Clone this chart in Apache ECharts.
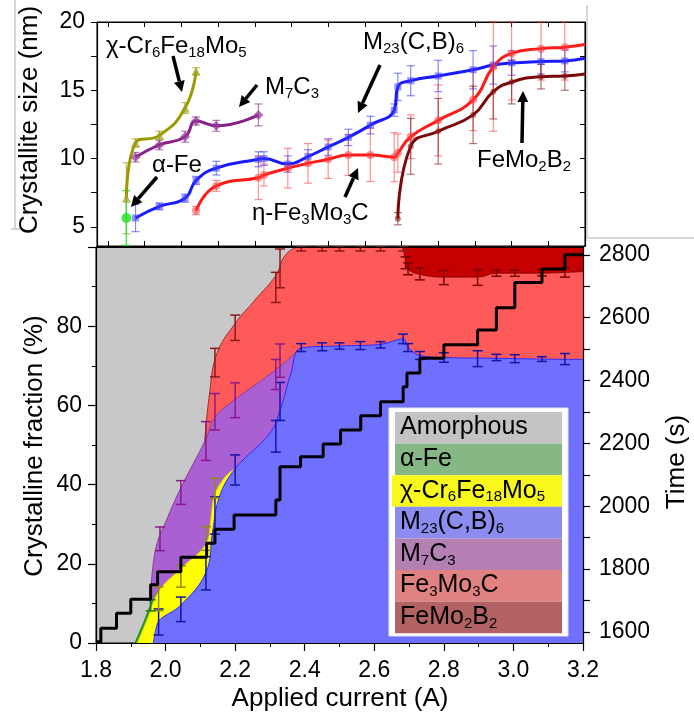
<!DOCTYPE html>
<html><head><meta charset="utf-8">
<script src="https://cdn.jsdelivr.net/npm/echarts@6/dist/echarts.min.js"></script>
<style>html,body{margin:0;padding:0;background:#fff}#c{width:694px;height:722px}</style>
</head><body><div id="c"></div>
<script>
// ---------- Top panel: crystallite size (nm) [current A, size, error] ----------
const sizeAlphaFe = [[1.95, 5.65, 2.0]];
const sizeChi = [[1.95,7.1,2.6],[1.975,11.15,0.3],[2.04,11.7,0.3],[2.11,13.7,0.4],[2.14,16.4,0.25]];
const sizeM7C3 = [[1.975,10.1,0.35],[2.04,11.0,0.35],[2.11,11.6,0.4],[2.14,12.75,0.3],[2.195,12.4,0.4],[2.31,13.2,0.8]];
const sizeM23 = [[1.975,5.65,1.0],[2.04,6.5,0.25],[2.11,7.1,0.3],[2.14,8.4,0.3],[2.195,9.3,0.5],[2.31,9.95,0.55],[2.325,10.0,0.5],[2.39,9.6,0.6],[2.445,10.15,0.5],[2.5,10.85,0.6],[2.555,11.55,0.6],[2.615,12.45,0.65],[2.68,13.55,0.45],[2.69,15.25,1.0],[2.725,15.7,1.1],[2.8,16.05,1.15],[2.895,16.5,1.4],[2.95,16.85,1.4],[3.0,17.0,0.9],[3.08,17.1,0.9],[3.145,17.15,0.8]];
const sizeFe3Mo3C = [[2.14,6.2,0.3],[2.195,8.0,0.4],[2.31,8.6,1.6],[2.325,8.8,0.8],[2.39,9.3,1.45],[2.445,9.65,1.45],[2.5,9.95,1.4],[2.555,10.27,1.5],[2.615,10.27,1.95],[2.68,10.1,1.8],[2.69,10.4,1.4],[2.725,11.6,1.6],[2.8,12.8,2.6],[2.895,14.3,2.25],[2.95,16.7,4.7],[3.0,17.7,3.4],[3.08,18.05,2.3],[3.145,18.15,2.4]];
const sizeFeMo2B2 = [[2.69,5.6,0.45],[2.725,10.9,2.05],[2.8,12.0,2.4],[2.895,13.2,2.1],[2.95,14.9,2.0],[3.0,15.6,1.6],[3.08,16.0,0.9],[3.145,16.05,1.05]];
const sizeEndM23 = 17.35, sizeEndFe3Mo3C = 18.35, sizeEndFeMo2B2 = 16.2;

// ---------- Bottom panel: cumulative crystalline fraction boundaries (%) ----------
const fracM23Top = [[1.965,0],[1.975,4.5],[1.985,6],[2.044,9.6],[2.116,17.8],[2.135,28],[2.155,37],[2.2,44],[2.3,53],[2.33,59],[2.36,68],[2.39,74.5],[2.5,75],[2.618,75.4],[2.683,76.8],[2.697,74.7],[2.731,72.6],[2.8,72.1],[2.951,71.9],[3.082,71.7],[3.2,71.6]];
const fracChiTop = [[1.919,0],[1.95,6.5],[1.98,13],[2.044,18.8],[2.116,25],[2.13,31],[2.14,37],[2.17,41.8],[2.2,44]];
const fracAlphaFeTop = [[1.912,0],[1.925,2.7],[1.94,5.8],[1.955,9.2],[1.97,11.8],[1.978,13]];
const fracM7C3Top = [[1.955,10],[1.962,18],[1.975,25],[2.0,30.5],[2.044,39.2],[2.116,51.5],[2.142,57],[2.2,61.5],[2.317,69],[2.39,74.6]];
const fracFe3Mo3CTop = [[2.112,50.5],[2.125,62],[2.147,73],[2.2,80.7],[2.257,86.6],[2.317,92.8],[2.345,98],[2.39,100],[3.2,100]];
const fracFeMo2B2Bottom = [[2.683,100],[2.69,96.5],[2.697,94.4],[2.731,93.1],[2.8,92.4],[2.897,92.4],[2.951,93.4],[3.004,93.4],[3.082,93.4],[3.148,93.6],[3.2,93.8]];

// error bars on the boundaries [current, value, error]
const errM23 = [[1.98,5.3,3.3],[2.044,8.5,3.1],[2.116,17.6,4.2],[2.142,32.2,4.7],[2.2,43.7,3.8],[2.317,52.2,4],[2.329,61,4.8],[2.39,74.6,1],[2.45,74.8,1],[2.5,75,0.8],[2.56,75.1,1],[2.618,75.3,0.8],[2.683,76.8,1.2],[2.697,74.6,1],[2.731,72.6,1],[2.8,72.1,1.2],[2.897,71.8,2],[2.951,72.1,0.8],[3.004,71.8,1],[3.082,71.7,0.6],[3.148,71.7,1.4]];
const errChi = [[1.98,11.2,3],[2.044,16.8,2.7],[2.116,26.4,3],[2.142,39.1,2.5]];
const errAlphaFe = [[1.957,9.5,1.4]];
const errM7C3 = [[1.984,26.3,3],[2.044,38,3],[2.116,51,4.9],[2.142,58.4,4.6],[2.2,61.3,4.4],[2.317,67.8,3.8],[2.329,71.3,4.2]];
const errFe3Mo3C = [[2.142,70.8,3.6],[2.2,79.6,3.2],[2.317,89.8,3.8],[2.329,94.6,4.9],[2.39,99.8,0.8],[2.45,99.8,0.8],[2.5,99.8,0.8],[2.56,99.8,0.8],[2.618,99.8,0.8],[2.683,99.8,0.8]];
const errFeMo2B2 = [[2.69,96,1.5],[2.697,94.5,1.5],[2.731,93.2,1.5],[2.8,92.3,1.8],[2.897,92.3,2],[2.951,93.4,0.8],[3.004,93.4,0.8],[3.082,93.5,0.8],[3.148,93.6,1.2]];

// ---------- Time staircase (right axis) ----------
const stepCurrent = [1.800,1.814,1.859,1.900,1.957,1.977,2.044,2.118,2.142,2.197,2.317,2.329,2.388,2.453,2.503,2.561,2.618,2.683,2.694,2.731,2.800,2.897,2.951,3.004,3.082,3.148,3.200];
const stepTime = [1569,1612,1660,1704,1750,1792,1838,1882,1927,1972,2020,2126,2158,2198,2243,2288,2333,2380,2424,2471,2514,2561,2632,2712,2755,2800,2800];

// ---------- tick labels ----------
const sizeTickLabels = [5,10,15,20];
const sizeTicks = [5,7.5,10,12.5,15,17.5,20];
const topCurrentTicks = [1.9,2.0,2.1,2.2,2.3,2.4,2.5,2.6,2.7,2.8,2.9,3.0,3.1];
const timeTickLabels = [1600,1800,2000,2200,2400,2600,2800];
const timeTicks = [1600,1700,1800,1900,2000,2100,2200,2300,2400,2500,2600,2700,2800];

const FONT = '"Liberation Sans", Arial, Helvetica, sans-serif';
const chart = echarts.init(document.getElementById('c'), null, {renderer:'canvas'});

function errSeries(name, data, color, xi, yi, capW, lw, z) {
  return {
    type:'custom', name, xAxisIndex:xi, yAxisIndex:yi, silent:true, z:z,
    data: data.map(d => [d[0], d[1]-d[2], d[1]+d[2]]),
    encode:{x:0, y:[1,2]},
    renderItem(params, api){
      const cs = params.coordSys;
      const x = api.value(0);
      const a = api.coord([x, api.value(1)]);
      const b = api.coord([x, api.value(2)]);
      const top = cs.y, bot = cs.y + cs.height;
      const cl = y => Math.max(top, Math.min(bot, y));
      const px = a[0];
      const st = {stroke: color, lineWidth: lw, fill: null};
      const ch = [{type:'line', shape:{x1:px,y1:cl(a[1]),x2:px,y2:cl(b[1])}, style:st}];
      ch.push({type:'line', shape:{x1:px-capW,y1:cl(a[1]),x2:px+capW,y2:cl(a[1])}, style:st});
      ch.push({type:'line', shape:{x1:px-capW,y1:cl(b[1]),x2:px+capW,y2:cl(b[1])}, style:st});
      return {type:'group', children: ch};
    }
  };
}
function sizeSeries(name, pts, endVal, color, symbol, symColor, symSize) {
  const data = pts.map(p => [p[0], p[1]]);
  if (endVal != null) data.push({value:[3.2, endVal], symbol:'none'});
  return {type:'line', name, xAxisIndex:0, yAxisIndex:0, data, smooth:0.5,
    symbol, symbolSize:symSize||8, showAllSymbol:true, clip:true,
    lineStyle:{color, width:3}, itemStyle:{color:symColor}, z:4, silent:true};
}
function areaSeries(name, pts, fill, stroke, origin) {
  return {type:'line', name, xAxisIndex:2, yAxisIndex:2, data:pts, smooth:0.4,
    symbol:'none', lineStyle:{color:stroke, width:1}, areaStyle:{color:fill, opacity:1, origin:origin||'start'},
    z:2, silent:true};
}

const axLine = {show:true, lineStyle:{color:'#000', width:1.2}};
const lblStyle = {color:'#000', fontFamily:FONT, fontSize:23};

const option = {
  animation:false,
  backgroundColor:'#fff',
  grid:[
    {left:97, right:109, top:22, height:224, show:true, backgroundColor:'#fff', borderColor:'#000', borderWidth:1},
    {left:96, right:111, top:247, height:396, show:true, backgroundColor:'#c8c8c8', borderColor:'#000', borderWidth:1}
  ],
  xAxis:[
    {gridIndex:0, type:'value', min:1.87, max:3.2, position:'bottom', axisLine:axLine,
     axisTick:{show:true, inside:true, length:5, customValues:topCurrentTicks, lineStyle:{color:'#000'}},
     axisLabel:{show:false}, splitLine:{show:false}},
    {gridIndex:0, type:'value', min:1.87, max:3.2, position:'top', axisLine:axLine,
     axisTick:{show:true, inside:true, length:5, customValues:topCurrentTicks, lineStyle:{color:'#000'}},
     axisLabel:{show:false}, splitLine:{show:false}},
    {gridIndex:1, type:'value', min:1.8, max:3.2, interval:0.2, position:'bottom', z:10, axisLine:axLine,
     axisTick:{show:true, length:8, lineStyle:{color:'#000', width:1.2}},
     minorTick:{show:true, splitNumber:2, length:4, lineStyle:{color:'#000'}},
     axisLabel:Object.assign({margin:16, formatter:v => v.toFixed(1)}, lblStyle), splitLine:{show:false}},
    {gridIndex:1, type:'value', min:1.8, max:3.2, position:'top', z:10, axisLine:axLine,
     axisTick:{show:false}, axisLabel:{show:false}, splitLine:{show:false}}
  ],
  yAxis:[
    {gridIndex:0, type:'value', min:3.6, max:20, position:'left', axisLine:axLine,
     axisTick:{show:true, length:6, customValues:sizeTicks, lineStyle:{color:'#000'}},
     axisLabel:Object.assign({margin:12, customValues:sizeTickLabels, formatter:v => String(v)}, lblStyle), splitLine:{show:false}},
    {gridIndex:0, type:'value', min:3.6, max:20, position:'right', axisLine:axLine,
     axisTick:{show:true, inside:true, length:5, customValues:sizeTicks, lineStyle:{color:'#000'}},
     axisLabel:{show:false}, splitLine:{show:false}},
    {gridIndex:1, type:'value', min:0, max:100, interval:20, position:'left', z:10, axisLine:axLine,
     axisTick:{show:true, length:8, lineStyle:{color:'#000', width:1.2}},
     minorTick:{show:true, splitNumber:2, length:4, lineStyle:{color:'#000'}},
     axisLabel:Object.assign({margin:14, showMaxLabel:false, formatter:v => String(v)}, lblStyle), splitLine:{show:false}},
    {gridIndex:1, type:'value', min:1565, max:2825, position:'right', z:10, axisLine:axLine,
     axisTick:{show:true, length:7, customValues:timeTicks, lineStyle:{color:'#000', width:1.2}},
     axisLabel:Object.assign({margin:16, customValues:timeTickLabels, formatter:v => String(Math.round(v))}, lblStyle), splitLine:{show:false}}
  ],
  series:[
    areaSeries('Fe3Mo3C', fracFe3Mo3CTop, '#ff5a5a', '#a02a2a'),
    areaSeries('FeMo2B2', fracFeMo2B2Bottom, '#c40000', '#8a0000', 'end'),
    areaSeries('M7C3', fracM7C3Top, '#aa5fd2', '#8a3aa0'),
    areaSeries('α-Fe', fracAlphaFeTop, '#2e9e2e', '#1f8a1f'),
    areaSeries('χ-Cr6Fe18Mo5', fracChiTop, '#ffff00', '#e0e000'),
    areaSeries('M23(C,B)6', fracM23Top, '#7070ff', '#2a2aff'),
    errSeries('eM23', errM23, '#1414a8', 2, 2, 5, 1.5, 3),
    errSeries('eChi', errChi, '#8c8c10', 2, 2, 5, 1.5, 3),
    errSeries('eAlpha', errAlphaFe, '#1f7a1f', 2, 2, 5, 1.5, 3),
    errSeries('eM7C3', errM7C3, '#8a1a8a', 2, 2, 5, 1.5, 3),
    errSeries('eFe3Mo3C', errFe3Mo3C, '#8a1a1a', 2, 2, 5, 1.5, 3),
    errSeries('eFeMo2B2', errFeMo2B2, '#7a0000', 2, 2, 5, 1.5, 3),
    {type:'line', name:'Time', xAxisIndex:2, yAxisIndex:3, data:stepCurrent.map((c,i)=>[c, stepTime[i]]),
     step:'end', symbol:'none', lineStyle:{color:'#000', width:3}, z:6, silent:true},
    errSeries('sM23', sizeM23, 'rgba(40,40,255,0.55)', 0, 0, 4, 1.2, 3),
    errSeries('sFe3Mo3C', sizeFe3Mo3C, 'rgba(255,40,40,0.5)', 0, 0, 4, 1.2, 3),
    errSeries('sFeMo2B2', sizeFeMo2B2, 'rgba(128,0,0,0.55)', 0, 0, 4, 1.2, 3),
    errSeries('sM7C3', sizeM7C3, 'rgba(136,34,136,0.6)', 0, 0, 4, 1.2, 3),
    errSeries('sChi', sizeChi, 'rgba(150,150,0,0.6)', 0, 0, 4, 1.2, 3),
    errSeries('sAlpha', sizeAlphaFe, 'rgba(40,220,40,0.8)', 0, 0, 4, 1.5, 3),
    sizeSeries('M23(C,B)6', sizeM23, sizeEndM23, '#1a1aff', 'rect', 'rgba(60,60,255,0.55)', 7),
    sizeSeries('η-Fe3Mo3C', sizeFe3Mo3C, sizeEndFe3Mo3C, '#ff1a1a', 'circle', 'rgba(255,60,60,0.55)', 8),
    sizeSeries('FeMo2B2', sizeFeMo2B2, sizeEndFeMo2B2, '#7a0a0a', 'circle', 'rgba(140,20,20,0.55)', 6),
    sizeSeries('M7C3', sizeM7C3, null, '#882288', 'diamond', 'rgba(150,60,150,0.7)', 10),
    sizeSeries('χ-Cr6Fe18Mo5', sizeChi, null, '#9a9a00', 'triangle', 'rgba(160,160,30,0.7)', 9),
    {type:'scatter', name:'α-Fe', xAxisIndex:0, yAxisIndex:0, data:sizeAlphaFe.map(p=>[p[0],p[1]]),
     symbol:'circle', symbolSize:10, itemStyle:{color:'#1ee01e'}, z:5, silent:true}
  ]
};

const sub = {s:{fontSize:15, fontFamily:FONT, lineHeight:10, verticalAlign:'bottom', fill:'#000'}};
function txt(x, y, text, size, opts) {
  return Object.assign({type:'text', x, y, z:100, silent:true,
    style:{text, fontFamily:FONT, fontSize:size, fill:'#000', textAlign:'left', textVerticalAlign:'middle', rich:sub, lineHeight:28}}, opts||{});
}
function rotTitle(x, y, text) {
  return {type:'text', x, y, z:100, silent:true, rotation:Math.PI/2,
    style:{text, fontFamily:FONT, fontSize:26, fill:'#000', textAlign:'center', textVerticalAlign:'middle'}};
}
function arrow(x1, y1, x2, y2) {
  const ang = Math.atan2(y2-y1, x2-x1), L = 11, W = 5.5;
  const bx = x2 - L*Math.cos(ang), by = y2 - L*Math.sin(ang);
  const px = -Math.sin(ang), py = Math.cos(ang);
  return [
    {type:'line', z:100, silent:true, shape:{x1, y1, x2:bx, y2:by}, style:{stroke:'#000', lineWidth:3.5}},
    {type:'polygon', z:100, silent:true, shape:{points:[[x2,y2],[bx+W*px,by+W*py],[bx-W*px,by-W*py]]}, style:{fill:'#000'}}
  ];
}
const legendItems = [
  ['Amorphous', '#c3c3c3'],
  ['α-Fe', '#86b886'],
  ['χ-Cr{s|6}Fe{s|18}Mo{s|5}', '#f8f81c'],
  ['M{s|23}(C,B){s|6}', '#8c8cf0'],
  ['M{s|7}C{s|3}', '#b480b4'],
  ['Fe{s|3}Mo{s|3}C', '#e08282'],
  ['FeMo{s|2}B{s|2}', '#b26262']
];
const graphics = [
  {type:'line', z:100, silent:true, shape:{x1:15,y1:0,x2:15,y2:229}, style:{stroke:'#c8c8c8', lineWidth:1.5}},
  {type:'line', z:100, silent:true, shape:{x1:11,y1:229,x2:20,y2:229}, style:{stroke:'#c8c8c8', lineWidth:1.5}},
  {type:'line', z:100, silent:true, shape:{x1:587,y1:5,x2:587,y2:238}, style:{stroke:'#c8c8c8', lineWidth:1.5}},
  {type:'line', z:100, silent:true, shape:{x1:587,y1:238,x2:694,y2:238}, style:{stroke:'#c8c8c8', lineWidth:1.5}},
  rotTitle(30, 120, 'Crystallite size (nm)'),
  rotTitle(35, 446, 'Crystalline fraction (%)'),
  rotTitle(677, 462, 'Time (s)'),
  {type:'text', x:340, y:699, z:100, silent:true,
   style:{text:'Applied current (A)', fontFamily:FONT, fontSize:26, fill:'#000', textAlign:'center', textVerticalAlign:'middle'}},
  txt(106, 46, 'χ-Cr{s|6}Fe{s|18}Mo{s|5}', 24),
  txt(265, 87, 'M{s|7}C{s|3}', 24),
  txt(152, 165, 'α-Fe', 24),
  txt(252, 213, 'η-Fe{s|3}Mo{s|3}C', 24),
  txt(363, 42, 'M{s|23}(C,B){s|6}', 24),
  txt(477, 160, 'FeMo{s|2}B{s|2}', 24)
].concat(
  arrow(173,56,182,92), arrow(257,85,239,107), arrow(157,177,131,207),
  arrow(380,65,358,113), arrow(345,197,358,168), arrow(522,143,523,91)
);
graphics.push({type:'rect', z:100, silent:true, shape:{x:389, y:408, width:179, height:228},
  style:{fill:'#fff', stroke:'#e6e6e6', lineWidth:1}});
legendItems.forEach((it, i) => {
  const y = 412 + i*31.6;
  graphics.push({type:'rect', z:101, silent:true, shape:{x: i===2 ? 392 : 395, y, width: i===2 ? 170 : 167, height:31.6}, style:{fill:it[1]}});
  graphics.push({type:'text', z:102, silent:true, x:400, y:y+15.5,
    style:{text:it[0], fontFamily:FONT, fontSize:25, fill:'#000', textAlign:'left', textVerticalAlign:'middle', rich:{s:{fontSize:15, fontFamily:FONT, lineHeight:10, verticalAlign:'bottom', fill:'#000'}}, lineHeight:28}});
});
option.graphic = {elements: graphics};
chart.setOption(option);
</script>
</body></html>
